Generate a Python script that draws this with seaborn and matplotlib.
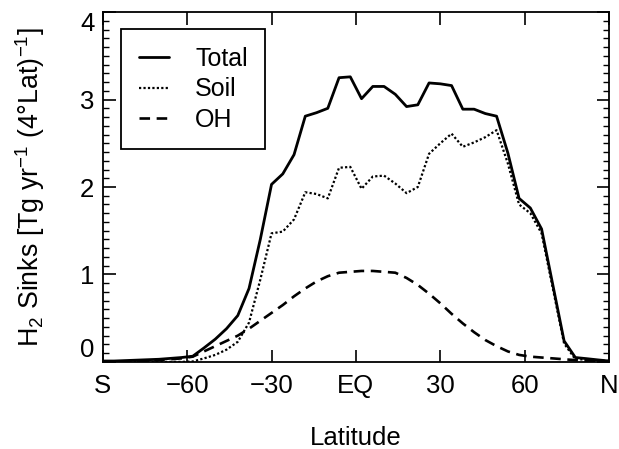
import matplotlib
matplotlib.use("Agg")
import matplotlib.pyplot as plt
from matplotlib.ticker import MultipleLocator
import seaborn as sns
import pandas as pd

# latitude bins (4 deg)
lat = [-90, -86, -82, -78, -74, -70, -66, -62, -58, -54, -50, -46, -42, -38, -34, -30,
       -26, -22, -18, -14, -10, -6, -2, 2, 6, 10, 14, 18, 22, 26, 30, 34, 38, 42, 46,
       50, 54, 58, 62, 66, 70, 74, 78, 82, 86, 90]

total = [0.01, 0.01, 0.015, 0.02, 0.025, 0.03, 0.04, 0.05, 0.065, 0.16, 0.26, 0.38,
         0.53, 0.84, 1.40, 2.03, 2.15, 2.37, 2.81, 2.85, 2.90, 3.25, 3.26, 3.01, 3.15,
         3.15, 3.06, 2.92, 2.94, 3.19, 3.18, 3.16, 2.89, 2.89, 2.84, 2.81, 2.39, 1.87,
         1.76, 1.52, 0.88, 0.24, 0.05, 0.037, 0.023, 0.01]

soil = [0.0, 0.0, 0.0, 0.0, 0.0, 0.0, 0.0, 0.0, 0.005, 0.04, 0.08, 0.14, 0.23, 0.45,
        0.94, 1.47, 1.49, 1.63, 1.94, 1.92, 1.87, 2.22, 2.23, 1.98, 2.12, 2.13, 2.04,
        1.93, 2.00, 2.38, 2.50, 2.61, 2.46, 2.51, 2.57, 2.65, 2.27, 1.80, 1.70, 1.47,
        0.84, 0.21, 0.03, 0.027, 0.018, 0.01]

oh = [0.0, 0.0, 0.005, 0.01, 0.01, 0.02, 0.03, 0.04, 0.06, 0.12, 0.18, 0.24, 0.30,
      0.38, 0.47, 0.56, 0.65, 0.75, 0.84, 0.92, 0.98, 1.02, 1.03, 1.04, 1.04, 1.03,
      1.02, 0.96, 0.88, 0.78, 0.67, 0.55, 0.44, 0.34, 0.25, 0.18, 0.12, 0.08, 0.06,
      0.05, 0.04, 0.03, 0.02, 0.01, 0.005, 0.0]

xticks = [-90, -60, -30, 0, 30, 60, 90]
xticklabels = ["S", "\u221260", "\u221230", "EQ", "30", "60", "N"]

df = pd.DataFrame({"lat": lat, "Total": total, "Soil": soil, "OH": oh})

sns.set_style("ticks")
plt.rcParams["font.family"] = ["Liberation Sans", "DejaVu Sans"]
plt.rcParams["font.size"] = 18.5
plt.rcParams["mathtext.fontset"] = "custom"
plt.rcParams["mathtext.rm"] = "Liberation Sans"
plt.rcParams["mathtext.default"] = "regular"
for key in ["text.color", "axes.labelcolor", "xtick.color", "ytick.color", "axes.edgecolor"]:
    plt.rcParams[key] = "black"

fig = plt.figure(figsize=(6.19, 4.49), dpi=100)
ax = fig.add_axes([0.166, 0.194, 0.818, 0.779])

sns.lineplot(data=df, x="lat", y="Total", ax=ax, color="black", lw=2.0, label="Total")
sns.lineplot(data=df, x="lat", y="Soil", ax=ax, color="black", lw=1.6,
             linestyle=(0, (1, 1)), label="Soil")
sns.lineplot(data=df, x="lat", y="OH", ax=ax, color="black", lw=1.9,
             linestyle=(0, (4, 2.5)), label="OH")

ax.set_xlim(-90, 90)
ax.set_ylim(0, 4)
ax.set_xticks(xticks)
ax.set_xticklabels(xticklabels)
ax.set_yticks([0, 1, 2, 3, 4])
ax.yaxis.set_minor_locator(MultipleLocator(0.1))
ax.tick_params(which="both", direction="in", top=True, right=True, color="black",
               labelsize=18.5)
ax.tick_params(which="major", length=9, width=1.2)
ax.tick_params(which="minor", length=4.5, width=1.0)
ax.tick_params(axis="y", pad=6)
ax.tick_params(axis="x", pad=9)
for s in ax.spines.values():
    s.set_linewidth(1.3)
    s.set_color("black")

# end labels kept inside the axis range
ylabels = ax.get_yticklabels()
ylabels[0].set_va("bottom")
ylabels[-1].set_va("top")

ax.set_xlabel("Latitude", labelpad=20)
ax.set_ylabel("H$_2$ Sinks [Tg yr$^{-1}$ (4\u00b0Lat)$^{-1}$]", labelpad=24,
              fontsize=19.3)

leg = ax.legend(loc="upper left", bbox_to_anchor=(0.037, 0.951), frameon=True,
                fancybox=False, edgecolor="black", handlelength=1.2,
                handletextpad=1.05, borderpad=0.7, labelspacing=0.26,
                borderaxespad=0, fontsize=18)
leg.get_frame().set_linewidth(1.3)
leg.get_frame().set_alpha(1)

fig.savefig("out.png", dpi=100)
